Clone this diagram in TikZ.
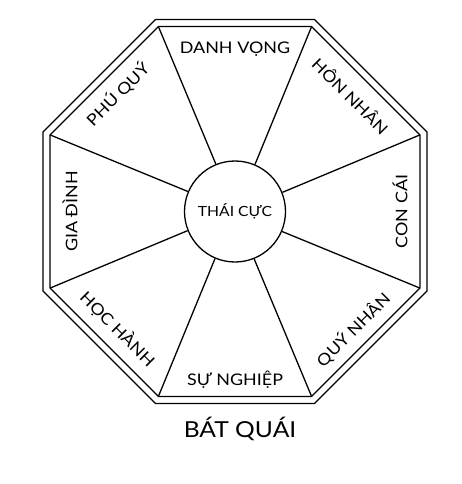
\documentclass[tikz,border=0pt]{standalone}
\usepackage{fontspec}
\setmainfont{Lato}[FakeStretch=1.12]
\usetikzlibrary{calc}

\tikzset{
  batquai/.style={line width=1.3pt},
  cung/.style={font=\fontsize{16}{16}\selectfont, inner sep=1pt},
}

\begin{document}
\begin{tikzpicture}[x=1pt, y=-1pt]
 	\useasboundingbox (0,0) rectangle (462,484);
 	\coordinate (o) at (235,211.5);
 	\node [circle, draw, batquai, minimum size=101pt, inner sep=0pt, font=\fontsize{14}{14}\selectfont] (thaicuc) at (o) {THÁI CỰC};
 	\foreach \a [count=\i] in {22.5,67.5,...,337.5} {
 		\coordinate (w\i) at ($(o)+(\a:207.8pt)$);
 		\coordinate (v\i) at ($(o)+(\a:200.2pt)$);
 	}
 	\draw [batquai] (w1) -- (w2) -- (w3) -- (w4) -- (w5) -- (w6) -- (w7) -- (w8) -- cycle;
 	\draw [batquai] (v1) -- (v2) -- (v3) -- (v4) -- (v5) -- (v6) -- (v7) -- (v8) -- cycle;
 	\foreach \a [count=\i] in {22.5,67.5,...,337.5}
 		\draw [batquai] (thaicuc.\a) -- (v\i);
 	\foreach \a/\d/\ten/\r [count=\i] in {90/162/DANH VỌNG/0, 45/164/HÔN NHÂN/-45, 0/165/CON CÁI/90, -45/167/QUÝ NHÂN/45,
 			-90/168/SỰ NGHIỆP/0, -135/166/HỌC HÀNH/-45, 180/165/GIA ĐÌNH/90, 135/166/PHÚ QUÝ/45}
 		\node [cung, rotate=\r] (c\i) at ($(o)+(\a:\d pt)$) {\ten};
 	\node [font=\fontsize{22}{22}\selectfont] (ten) at (240,429) {BÁT QUÁI};
\end{tikzpicture}
\end{document}
